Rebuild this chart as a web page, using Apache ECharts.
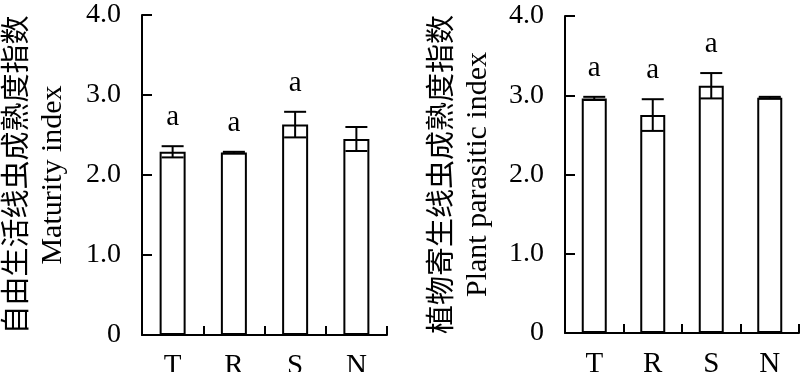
<!DOCTYPE html>
<html>
<head>
<meta charset="utf-8">
<script src="https://cdn.jsdelivr.net/npm/echarts@6/dist/echarts.min.js"></script>
<style>html,body{margin:0;padding:0;background:#fff;}#c{width:800px;height:372px;}</style>
</head>
<body>
<div id="c"></div>
<script>
var categories = ['T', 'R', 'S', 'N'];
var yTicks = [0, 1, 2, 3, 4];
var maturityValues = [2.29, 2.28, 2.63, 2.45];
var maturityErrors = [0.07, 0.01, 0.16, 0.15];
var maturityLetters = ['a', 'a', 'a', ''];
var parasiticValues = [2.96, 2.75, 3.12, 2.97];
var parasiticErrors = [0.02, 0.20, 0.16, 0.01];
var parasiticLetters = ['a', 'a', 'a', ''];
var leftNameCn = '自由生活线虫成熟度指数';
var leftNameEn = 'Maturity index';
var rightNameCn = '植物寄生线虫成熟度指数';
var rightNameEn = 'Plant parasitic index';

var SERIF = 'Liberation Serif';
var chart = echarts.init(document.getElementById('c'), null, {renderer: 'canvas'});

function errRender(values, errors, letters) {
  return function (params, api) {
    var i = api.value(0);
    var v = values[i], e = errors[i];
    var top = api.coord([i, v + e]);
    var bot = api.coord([i, v - e]);
    var half = 11;
    var st = {stroke: '#000', lineWidth: 2, fill: null};
    var children = [
      {type: 'line', shape: {x1: top[0], y1: top[1], x2: bot[0], y2: bot[1]}, style: st},
      {type: 'line', shape: {x1: top[0] - half, y1: top[1], x2: top[0] + half, y2: top[1]}, style: st},
      {type: 'line', shape: {x1: bot[0] - half, y1: bot[1], x2: bot[0] + half, y2: bot[1]}, style: st}
    ];
    if (letters[i]) {
      children.push({type: 'text', style: {text: letters[i], x: top[0], y: top[1] - 14,
        textAlign: 'center', textVerticalAlign: 'bottom', fontFamily: SERIF, fontSize: 29, fill: '#000'}});
    }
    return {type: 'group', children: children};
  };
}

function yAxisDef(gridIndex, cn, en, gap) {
  return {
    type: 'value', gridIndex: gridIndex, min: yTicks[0], max: yTicks[yTicks.length - 1], interval: 1,
    axisLine: {show: true, lineStyle: {color: '#000', width: 2}},
    axisTick: {show: true, inside: true, length: 10, lineStyle: {color: '#000', width: 2}},
    splitLine: {show: false},
    axisLabel: {color: '#000', fontFamily: SERIF, fontSize: 28, margin: 21,
      formatter: function (v) { return v === 0 ? '0' : v.toFixed(1); }},
    name: '{cn|' + cn + '}\n{en|' + en + '}',
    nameLocation: 'middle', nameRotate: 90, nameGap: gap,
    nameTextStyle: {
      rich: {
        cn: {fontFamily: 'Noto Sans CJK SC', fontSize: 29, lineHeight: 40, color: '#000'},
        en: {fontFamily: SERIF, fontSize: 30, lineHeight: 36, color: '#000'}
      }
    }
  };
}

function xAxisDef(gridIndex) {
  return {
    type: 'category', gridIndex: gridIndex, data: categories, boundaryGap: true,
    axisLine: {show: true, lineStyle: {color: '#000', width: 2}},
    axisTick: {show: true, inside: true, length: 9, alignWithLabel: false, lineStyle: {color: '#000', width: 2}},
    axisLabel: {color: '#000', fontFamily: SERIF, fontSize: 29, margin: 17}
  };
}

var idx = categories.map(function (c, i) { return [i]; });

chart.setOption({
  animation: false,
  backgroundColor: '#fff',
  grid: [
    {left: 142, top: 15, width: 245, height: 320, outerBoundsMode: 'none', containLabel: false},
    {left: 565, top: 16, width: 234, height: 317, outerBoundsMode: 'none', containLabel: false}
  ],
  xAxis: [xAxisDef(0), xAxisDef(1)],
  yAxis: [yAxisDef(0, leftNameCn, leftNameEn, 71), yAxisDef(1, rightNameCn, rightNameEn, 69)],
  series: [
    {type: 'bar', xAxisIndex: 0, yAxisIndex: 0, data: maturityValues, barWidth: 26, z: 2,
      itemStyle: {color: '#fff', borderColor: '#000', borderWidth: 2}},
    {type: 'custom', xAxisIndex: 0, yAxisIndex: 0, data: idx, z: 5,
      renderItem: errRender(maturityValues, maturityErrors, maturityLetters)},
    {type: 'bar', xAxisIndex: 1, yAxisIndex: 1, data: parasiticValues, barWidth: 25, z: 2,
      itemStyle: {color: '#fff', borderColor: '#000', borderWidth: 2}},
    {type: 'custom', xAxisIndex: 1, yAxisIndex: 1, data: idx, z: 5,
      renderItem: errRender(parasiticValues, parasiticErrors, parasiticLetters)}
  ]
});
</script>
</body>
</html>
